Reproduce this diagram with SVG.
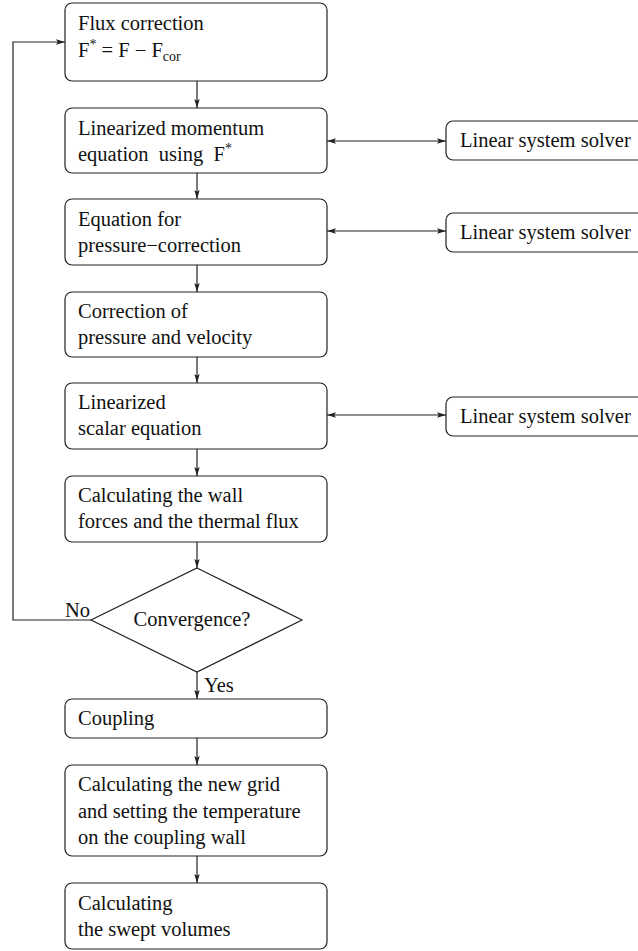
<svg xmlns="http://www.w3.org/2000/svg" width="638" height="951" viewBox="0 0 638 951">
  <style>
    .box { fill: #fff; stroke: #222; stroke-width: 1.2; }
    .conn { fill: none; stroke: #222; stroke-width: 1.2; }
    .small { font-size: 14px; }
  </style>
  <defs>
    <marker id="arrow" viewBox="0 0 10 6" refX="10" refY="3" markerWidth="9" markerHeight="5.4" markerUnits="userSpaceOnUse" orient="auto-start-reverse">
      <path d="M0,0 L10,3 L0,6 L2,3 z" fill="#222"/>
    </marker>
  </defs>
  <rect width="638" height="951" fill="#fff"/>

  <g id="connectors">
    <line class="conn" x1="197" y1="81" x2="197" y2="108" marker-end="url(#arrow)"/>
    <line class="conn" x1="197" y1="173" x2="197" y2="199" marker-end="url(#arrow)"/>
    <line class="conn" x1="197" y1="265" x2="197" y2="292" marker-end="url(#arrow)"/>
    <line class="conn" x1="197" y1="357" x2="197" y2="383" marker-end="url(#arrow)"/>
    <line class="conn" x1="197" y1="449" x2="197" y2="476" marker-end="url(#arrow)"/>
    <line class="conn" x1="197" y1="542" x2="197" y2="568" marker-end="url(#arrow)"/>
    <line class="conn" x1="197" y1="672" x2="197" y2="699" marker-end="url(#arrow)"/>
    <line class="conn" x1="197" y1="738" x2="197" y2="765" marker-end="url(#arrow)"/>
    <line class="conn" x1="197" y1="856" x2="197" y2="883" marker-end="url(#arrow)"/>
    <line class="conn" x1="327" y1="141" x2="446" y2="141" marker-start="url(#arrow)" marker-end="url(#arrow)"/>
    <line class="conn" x1="327" y1="231" x2="446" y2="231" marker-start="url(#arrow)" marker-end="url(#arrow)"/>
    <line class="conn" x1="327" y1="415" x2="446" y2="415" marker-start="url(#arrow)" marker-end="url(#arrow)"/>
    <polyline class="conn" points="91,620 13,620 13,42 65,42" marker-end="url(#arrow)"/>
    <text x="65" y="617" font-family="Liberation Serif, serif" font-size="20.5" fill="#111">No</text>
    <text x="204" y="692" font-family="Liberation Serif, serif" font-size="20.5" fill="#111">Yes</text>
  </g>

  <g id="flux-correction">
    <rect class="box" x="65" y="3" width="262" height="78" rx="7"/>
    <text x="78" y="30" font-family="Liberation Serif, serif" font-size="20.5" fill="#111">Flux correction</text>
    <text x="78" y="57" font-family="Liberation Serif, serif" font-size="20.5" fill="#111">F<tspan font-size="14" dy="-8">*</tspan><tspan dy="8"> = F − F</tspan><tspan font-size="14" dy="4">cor</tspan></text>
  </g>

  <g id="momentum">
    <rect class="box" x="65" y="108" width="262" height="65" rx="7"/>
    <text x="78" y="135" font-family="Liberation Serif, serif" font-size="20.5" fill="#111">Linearized momentum</text>
    <text x="78" y="161" font-family="Liberation Serif, serif" font-size="20.5" fill="#111" xml:space="preserve">equation  using  F<tspan font-size="14" dy="-8">*</tspan></text>
  </g>

  <g id="pressure-equation">
    <rect class="box" x="65" y="199" width="262" height="66" rx="7"/>
    <text x="78" y="226" font-family="Liberation Serif, serif" font-size="20.5" fill="#111">Equation for</text>
    <text x="78" y="252" font-family="Liberation Serif, serif" font-size="20.5" fill="#111">pressure−correction</text>
  </g>

  <g id="correction">
    <rect class="box" x="65" y="292" width="262" height="65" rx="7"/>
    <text x="78" y="318" font-family="Liberation Serif, serif" font-size="20.5" fill="#111">Correction of</text>
    <text x="78" y="344" font-family="Liberation Serif, serif" font-size="20.5" fill="#111">pressure and velocity</text>
  </g>

  <g id="scalar">
    <rect class="box" x="65" y="383" width="262" height="66" rx="7"/>
    <text x="78" y="409" font-family="Liberation Serif, serif" font-size="20.5" fill="#111">Linearized</text>
    <text x="78" y="435" font-family="Liberation Serif, serif" font-size="20.5" fill="#111">scalar equation</text>
  </g>

  <g id="wall-forces">
    <rect class="box" x="65" y="476" width="262" height="66" rx="7"/>
    <text x="78" y="502" font-family="Liberation Serif, serif" font-size="20.5" fill="#111">Calculating the wall</text>
    <text x="78" y="528" font-family="Liberation Serif, serif" font-size="20.5" fill="#111">forces and the thermal flux</text>
  </g>

  <g id="convergence">
    <polygon class="box" points="197,568 302,620 197,672 91,620"/>
    <text x="192" y="626" font-family="Liberation Serif, serif" font-size="20.5" fill="#111" text-anchor="middle">Convergence?</text>
  </g>

  <g id="coupling">
    <rect class="box" x="65" y="699" width="262" height="39" rx="7"/>
    <text x="78" y="725" font-family="Liberation Serif, serif" font-size="20.5" fill="#111">Coupling</text>
  </g>

  <g id="new-grid">
    <rect class="box" x="65" y="765" width="262" height="91" rx="7"/>
    <text x="78" y="791" font-family="Liberation Serif, serif" font-size="20.5" fill="#111">Calculating the new grid</text>
    <text x="78" y="818" font-family="Liberation Serif, serif" font-size="20.5" fill="#111">and setting the temperature</text>
    <text x="78" y="844" font-family="Liberation Serif, serif" font-size="20.5" fill="#111">on the coupling wall</text>
  </g>

  <g id="swept-volumes">
    <rect class="box" x="65" y="883" width="262" height="66" rx="7"/>
    <text x="78" y="910" font-family="Liberation Serif, serif" font-size="20.5" fill="#111">Calculating</text>
    <text x="78" y="936" font-family="Liberation Serif, serif" font-size="20.5" fill="#111">the swept volumes</text>
  </g>

  <g id="solver-1">
    <rect class="box" x="446" y="121" width="200" height="39" rx="7"/>
    <text x="460" y="147" font-family="Liberation Serif, serif" font-size="20.5" fill="#111">Linear system solver</text>
  </g>

  <g id="solver-2">
    <rect class="box" x="446" y="213" width="200" height="39" rx="7"/>
    <text x="460" y="239" font-family="Liberation Serif, serif" font-size="20.5" fill="#111">Linear system solver</text>
  </g>

  <g id="solver-3">
    <rect class="box" x="446" y="397" width="200" height="39" rx="7"/>
    <text x="460" y="423" font-family="Liberation Serif, serif" font-size="20.5" fill="#111">Linear system solver</text>
  </g>
</svg>
